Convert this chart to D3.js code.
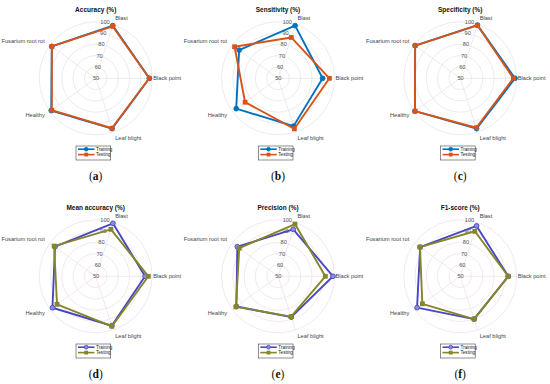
<!DOCTYPE html>
<html>
<head>
<meta charset="utf-8">
<script src="https://cdn.jsdelivr.net/npm/d3@7"></script>
<style>
  body { margin: 0; background: #fff; }
  text { font-family: "Liberation Sans", Arial, sans-serif; }
</style>
</head>
<body>
<script>
// categories counterclockwise starting at 3 o'clock
const categories = ["Black point", "Blast", "Fusarium root rot", "Healthy", "Leaf blight"];
const tickValues = [50, 60, 70, 80, 90, 100];
const seriesNames = ["Training", "Testing"];

const titles = ["Accuracy (%)", "Sensitivity (%)", "Specificity (%)",
                "Mean accuracy (%)", "Precision (%)", "F1-score (%)"];
const letters = ["a", "b", "c", "d", "e", "f"];

const accuracyTrain    = [97.5, 99.0, 98.0, 98.6, 96.8];
const accuracyTest     = [97.4, 98.4, 98.0, 98.0, 96.5];
const sensitivityTrain = [89.5, 99.0, 92.5, 95.7, 94.5];
const sensitivityTest  = [95.5, 88.0, 97.5, 86.0, 97.0];
const specificityTrain = [98.5, 99.5, 99.3, 99.5, 96.8];
const specificityTest  = [97.0, 99.3, 99.3, 99.5, 96.0];
const meanAccTrain     = [93.7, 99.3, 94.5, 97.3, 96.0];
const meanAccTest      = [96.6, 93.7, 95.5, 92.3, 96.5];
const precisionTrain   = [98.7, 93.7, 94.5, 95.5, 88.0];
const precisionTest    = [91.9, 98.6, 92.4, 96.0, 87.5];
const f1Train          = [92.5, 96.9, 93.8, 97.2, 89.8];
const f1Test           = [92.5, 91.9, 94.0, 91.4, 89.8];

const panelData = [
  [accuracyTrain, accuracyTest],
  [sensitivityTrain, sensitivityTest],
  [specificityTrain, specificityTest],
  [meanAccTrain, meanAccTest],
  [precisionTrain, precisionTest],
  [f1Train, f1Test]
];

const width = 550, height = 384;
const R = 56.5;
const colX = [95.7, 278, 460.2];
const rowY = [78.3, 276.3];
const palettes = [
  {train: "#0072BD", test: "#D95319", grid: "#e3e3e3", trainFill: "#0072BD"},
  {train: "#4848C4", test: "#85852A", grid: "#eddde6", trainFill: "#8c8cdc"}
];

const svg = d3.select("body").append("svg")
  .attr("width", width)
  .attr("height", height);

const r = d3.scaleLinear().domain([50, 100]).range([0, R]);
const step = 2 * Math.PI / categories.length;
const theta = i => i * step;   // counterclockwise from +x

const line = d3.lineRadial()
  .angle((d, i) => Math.PI / 2 - theta(i))
  .radius(d => r(d))
  .curve(d3.curveLinearClosed);

panelData.forEach((series, p) => {
  const row = Math.floor(p / 3), col = p % 3;
  const cx = colX[col], cy = rowY[row];
  const pal = palettes[row];
  const g = svg.append("g").attr("transform", `translate(${cx},${cy})`);

  // rings
  g.selectAll("circle.ring")
    .data(tickValues.slice(1))
    .enter().append("circle")
      .attr("r", d => r(d))
      .attr("fill", "none")
      .attr("stroke", pal.grid)
      .attr("stroke-width", 0.7);

  // spokes
  g.selectAll("line.spoke")
    .data(categories)
    .enter().append("line")
      .attr("x1", 0).attr("y1", 0)
      .attr("x2", (d, i) => R * Math.cos(theta(i)))
      .attr("y2", (d, i) => -R * Math.sin(theta(i)))
      .attr("stroke", pal.grid)
      .attr("stroke-width", 0.7);

  // tick labels
  g.selectAll("text.tick")
    .data(tickValues)
    .enter().append("text")
      .attr("x", d => 0.3 + (d - 50) / 50 * 9)
      .attr("y", d => -r(d))
      .attr("dy", "0.35em")
      .attr("text-anchor", "middle")
      .attr("font-size", 5.6)
      .attr("fill", "#555")
      .text(d => d);

  // category labels
  g.selectAll("text.cat")
    .data(categories)
    .enter().append("text")
      .attr("x", (d, i) => (i === 0 ? R + 1 : R + 6.5) * Math.cos(theta(i)))
      .attr("y", (d, i) => -(i === 0 ? R + 1 : R + 6.5) * Math.sin(theta(i)))
      .attr("dy", "0.35em")
      .attr("text-anchor", (d, i) => Math.cos(theta(i)) < -0.1 ? "end" : "start")
      .attr("font-size", 5.7)
      .attr("fill", "#444")
      .text(d => d);

  // series
  series.forEach((vals, s) => {
    const color = s === 0 ? pal.train : pal.test;
    g.append("path")
      .attr("d", line(vals))
      .attr("fill", "none")
      .attr("stroke", color)
      .attr("stroke-width", 1.9)
      .attr("stroke-linejoin", "round");
    const pts = vals.map((v, i) => [r(v) * Math.cos(theta(i)), -r(v) * Math.sin(theta(i))]);
    if (s === 0) {
      g.selectAll(null).data(pts).enter().append("circle")
        .attr("cx", d => d[0]).attr("cy", d => d[1])
        .attr("r", 2.4)
        .attr("fill", pal.trainFill)
        .attr("stroke", color)
        .attr("stroke-width", 0.9);
    } else {
      g.selectAll(null).data(pts).enter().append("rect")
        .attr("x", d => d[0] - 2.4).attr("y", d => d[1] - 2.4)
        .attr("width", 4.8).attr("height", 4.8)
        .attr("fill", color);
    }
  });

  // title
  g.append("text")
    .attr("x", 0).attr("y", -69)
    .attr("dy", "0.35em")
    .attr("text-anchor", "middle")
    .attr("font-size", 6.5)
    .attr("font-weight", "bold")
    .attr("fill", "#111")
    .text(titles[p]);

  // legend
  const lg = g.append("g").attr("transform", "translate(-19.7,67.7)");
  lg.append("rect")
    .attr("width", 34.7).attr("height", 14)
    .attr("fill", "#fff")
    .attr("stroke", "#444")
    .attr("stroke-width", 0.6);
  seriesNames.forEach((name, s) => {
    const color = s === 0 ? pal.train : pal.test;
    const y = 3.2 + s * 5.4;
    lg.append("line")
      .attr("x1", 2).attr("x2", 18.5)
      .attr("y1", y).attr("y2", y)
      .attr("stroke", color).attr("stroke-width", 1.6);
    if (s === 0) {
      lg.append("circle").attr("cx", 10.2).attr("cy", y).attr("r", 1.9)
        .attr("fill", pal.trainFill).attr("stroke", color).attr("stroke-width", 0.8);
    } else {
      lg.append("rect").attr("x", 8.3).attr("y", y - 1.9)
        .attr("width", 3.8).attr("height", 3.8).attr("fill", color);
    }
    lg.append("text")
      .attr("x", 20).attr("y", y)
      .attr("dy", "0.35em")
      .attr("font-size", 4.6)
      .attr("fill", "#222")
      .text(name);
  });

  // caption
  const cap = g.append("text")
    .attr("x", 0).attr("y", 97.4)
    .attr("dy", "0.35em")
    .attr("text-anchor", "middle")
    .attr("font-size", 11.5)
    .attr("fill", "#111")
    .style("font-family", "'Liberation Serif', 'Times New Roman', serif");
  cap.append("tspan").text("(");
  cap.append("tspan").attr("font-weight", "bold").text(letters[p]);
  cap.append("tspan").text(")");
});
</script>
</body>
</html>
